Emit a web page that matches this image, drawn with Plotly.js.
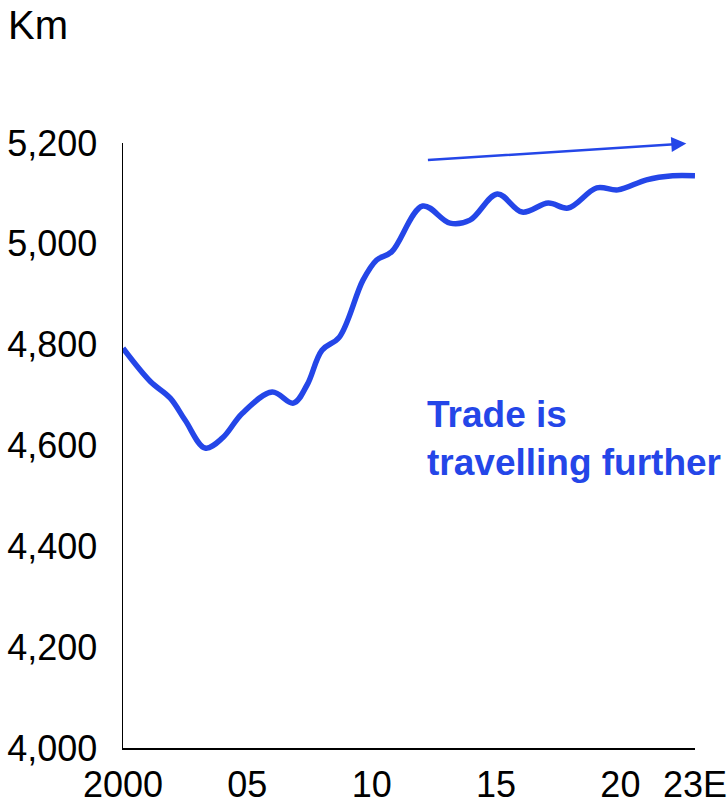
<!DOCTYPE html>
<html>
<head>
<meta charset="utf-8">
<script src="https://cdn.plot.ly/plotly-3.0.1.min.js"></script>
<style>html,body{margin:0;padding:0;background:#fff;}#chart{width:727px;height:804px;}</style>
</head>
<body>
<div id="chart"></div>
<script>
// Data (decimal year, km)
const years = [2000.0, 2001.1, 2001.9, 2002.5, 2003.3, 2004.0, 2004.8, 2006.0, 2006.85, 2007.4, 2008.0, 2008.7, 2009.65, 2010.2, 2010.8, 2012.05, 2013.15, 2013.95, 2015.05, 2016.05, 2017.1, 2017.9, 2019.05, 2019.9, 2021.05, 2022.1, 2023.0];
const distanceKm = [4793, 4727, 4694, 4650, 4595, 4615, 4664, 4706, 4684, 4720, 4789, 4815, 4928, 4968, 4984, 5075, 5041, 5047, 5099, 5063, 5081, 5071, 5111, 5107, 5127, 5135, 5135];

const tickVals = [2000, 2005, 2010, 2015, 2020, 2023];
const tickText = ['2000', '05', '10', '15', '20', '23E'];
const yTickVals = [4000, 4200, 4400, 4600, 4800, 5000, 5200];

// Trend arrow endpoints (tail -> head)
const arrowTail = {x: 2012.2, y: 5166};
const arrowHead = {x: 2022.65, y: 5199};

const blue = '#2446E8';
const font = 'Arial, "Liberation Sans", Helvetica, sans-serif';

const trace = {
  x: years, y: distanceKm, type: 'scatter', mode: 'lines',
  line: {color: blue, width: 5.5, shape: 'spline', smoothing: 1},
  hoverinfo: 'skip', cliponaxis: false
};

const layout = {
  width: 727, height: 804,
  margin: {l: 123, r: 32, t: 143, b: 56},
  paper_bgcolor: '#fff', plot_bgcolor: '#fff',
  showlegend: false,
  font: {family: font, color: '#000', size: 36},
  xaxis: {
    range: [2000, 2023], tickvals: tickVals, ticktext: tickText,
    showgrid: false, zeroline: false, showline: true, linecolor: '#000', linewidth: 1.5,
    ticks: '', ticklabelstandoff: 4, ticklabeloverflow: 'allow', automargin: false,
    tickfont: {size: 36, family: font, color: '#000'},
    fixedrange: true
  },
  yaxis: {
    range: [4000, 5200], tickvals: yTickVals, tickformat: ',d',
    showgrid: false, zeroline: false, showline: true, linecolor: '#000', linewidth: 1.5,
    ticks: '', ticklabelstandoff: 17, ticklabeloverflow: 'allow', automargin: false,
    tickfont: {size: 36, family: font, color: '#000'},
    fixedrange: true
  },
  annotations: [
    {text: 'Km', xref: 'paper', yref: 'paper', x: -117/572, y: 1 + 142/605, xanchor: 'left', yanchor: 'top',
     showarrow: false, font: {size: 40, family: font, color: '#000'}},
    {text: '<b>Trade is</b><br><b>travelling further</b>', xref: 'paper', yref: 'paper',
     x: (425-123)/572, y: (748-392)/605, xanchor: 'left', yanchor: 'top', align: 'left',
     showarrow: false, font: {size: 37, family: font, color: blue}},
    {text: '', x: arrowHead.x, y: arrowHead.y, xref: 'x', yref: 'y',
     ax: arrowTail.x, ay: arrowTail.y, axref: 'x', ayref: 'y',
     showarrow: true, arrowhead: 2, arrowsize: 1.2, arrowwidth: 2.5, arrowcolor: blue, standoff: 0}
  ]
};

Plotly.newPlot('chart', [trace], layout, {staticPlot: true, displayModeBar: false});
</script>
</body>
</html>
